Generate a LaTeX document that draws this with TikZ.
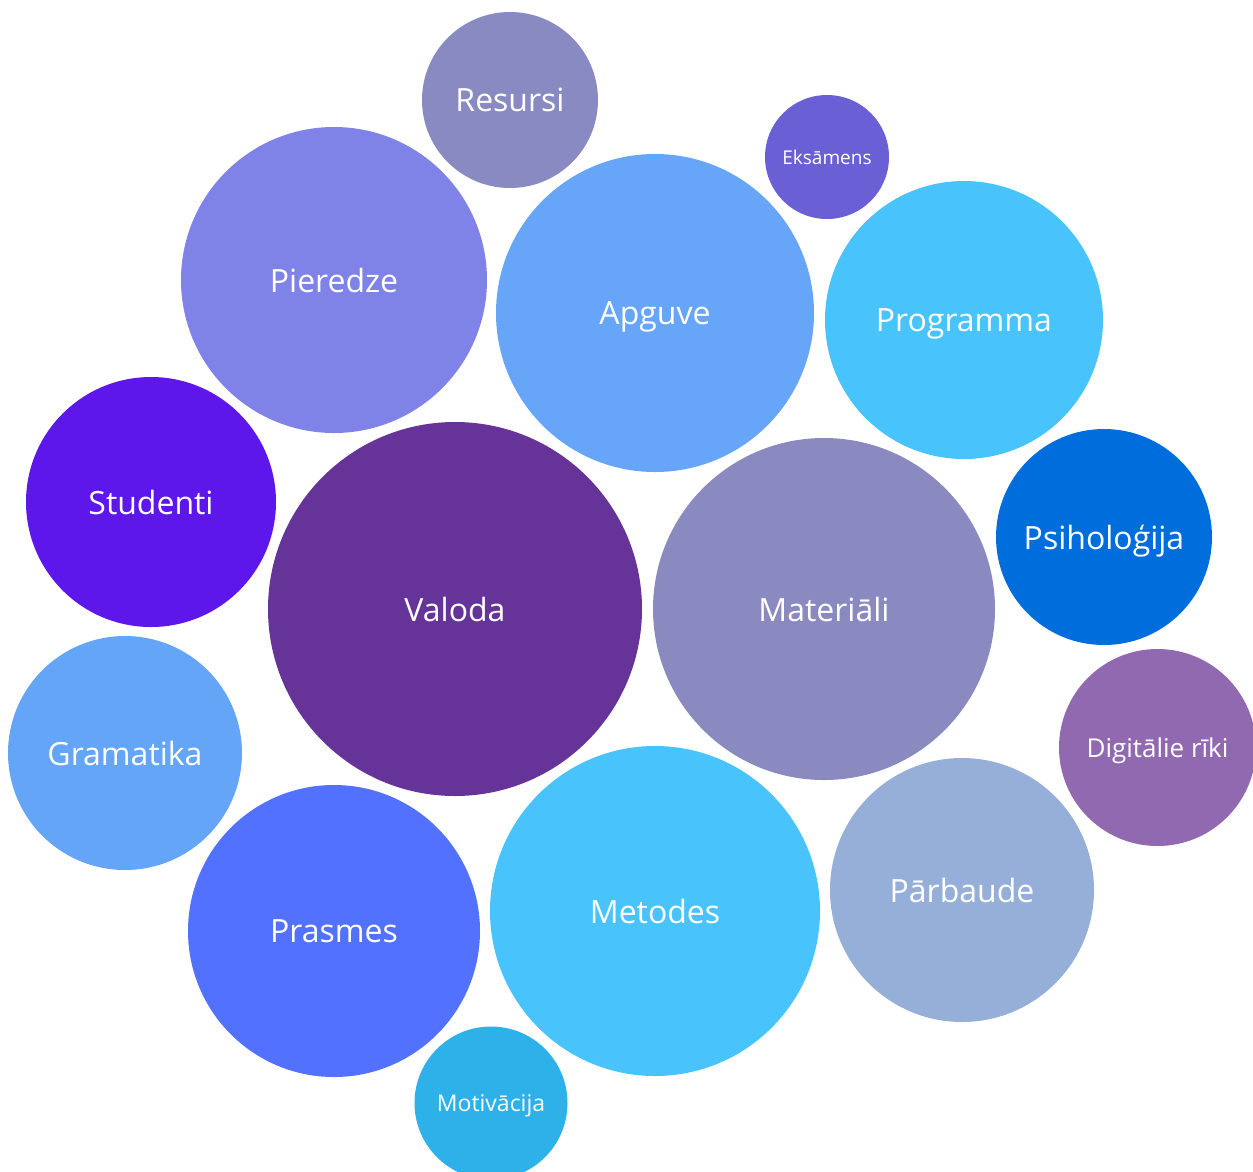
\documentclass[tikz,border=0pt]{standalone}
\usepackage{fontspec}
\setmainfont{Open Sans}
\definecolor{cResursi}{HTML}{8A8AC2}
\definecolor{cEks}{HTML}{6B5FD6}
\definecolor{cPier}{HTML}{7F82E6}
\definecolor{cApg}{HTML}{66A5F8}
\definecolor{cProg}{HTML}{48C3FC}
\definecolor{cStud}{HTML}{5E17EB}
\definecolor{cVal}{HTML}{663399}
\definecolor{cMat}{HTML}{8A89C0}
\definecolor{cPsi}{HTML}{006DDD}
\definecolor{cDig}{HTML}{9069B0}
\definecolor{cGram}{HTML}{64A5F8}
\definecolor{cPras}{HTML}{5271FF}
\definecolor{cMet}{HTML}{48C3FC}
\definecolor{cParb}{HTML}{96AFD8}
\definecolor{cMot}{HTML}{2EB0E8}
\tikzset{
  bubble/.style={circle, inner sep=0pt, text=white, text depth=0pt, font=\fontsize{32}{38}\selectfont},
}
\begin{document}
\begin{tikzpicture}[x=1pt,y=-1pt]
\useasboundingbox (0,0) rectangle (1253,1171);
\begin{scope}
\clip (0,0) rectangle (1253,1171);
\node[bubble, fill=cResursi, minimum size=176pt] (resursi) at (510,100) {Resursi};
\node[bubble, fill=cEks, minimum size=124pt, font=\fontsize{19}{23}\selectfont] (eks) at (827,157) {Eksāmens};
\node[bubble, fill=cPier, minimum size=306pt] (pier) at (334,280) {Pieredze};
\node[bubble, fill=cApg, minimum size=318pt] (apg) at (655,313) {Apguve};
\node[bubble, fill=cProg, minimum size=278pt] (prog) at (964,320) {Programma};
\node[bubble, fill=cStud, minimum size=250pt] (stud) at (151,502) {Studenti};
\node[bubble, fill=cVal, minimum size=374pt] (val) at (455,609) {Valoda};
\node[bubble, fill=cMat, minimum size=342pt] (mat) at (824,609) {Materiāli};
\node[bubble, fill=cPsi, minimum size=216pt] (psi) at (1104,537) {Psiholoģija};
\node[bubble, fill=cDig, minimum size=197pt, font=\fontsize{26}{31}\selectfont] (dig) at (1157.5,747.5) {Digitālie rīki};
\node[bubble, fill=cGram, minimum size=234pt] (gram) at (125,753) {Gramatika};
\node[bubble, fill=cPras, minimum size=292pt] (pras) at (334,931) {Prasmes};
\node[bubble, fill=cMet, minimum size=330pt] (met) at (655,911) {Metodes};
\node[bubble, fill=cParb, minimum size=264pt] (parb) at (962,890) {Pārbaude};
\node[bubble, fill=cMot, minimum size=153pt, font=\fontsize{23}{27}\selectfont] (mot) at (491,1103) {Motivācija};
\end{scope}
\end{tikzpicture}
\end{document}
